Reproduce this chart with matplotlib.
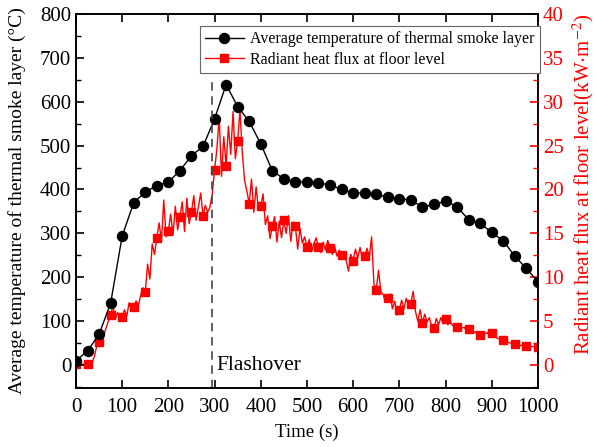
import numpy as np
import matplotlib.pyplot as plt

plt.rcParams['font.family'] = ['Liberation Serif', 'DejaVu Serif']
plt.rcParams['mathtext.fontset'] = 'stix'

# temperature of smoke layer, one reading every 25 s
t_temp = np.arange(0, 1001, 25)
temp = [10, 32, 70, 141, 294, 370, 394, 409, 417, 443, 477, 498, 561, 639, 589,
        555, 504, 443, 424, 417, 418, 414, 411, 400, 392, 392, 390, 382, 379, 376,
        360, 366, 373, 361, 331, 323, 302, 283, 248, 220, 190]

# radiant heat flux, read every 5 s
t_flux = np.arange(0, 1001, 5)
flux = [0.1, 0.1, 0.0, 0.1, 0.0, 0.1, 0.1, 0.3, 1.0, 2.2, 2.6, 2.9, 3.4, 4.2, 5.0,
        5.7, 6.8, 5.2, 6.0, 5.4, 5.5, 6.3, 5.6, 7.1, 6.2, 6.6, 7.3, 6.8, 7.9, 8.8,
        8.3, 11.5, 9.8, 13.8, 12.6, 14.5, 16.2, 14.1, 18.8, 14.6, 15.3, 17.2, 14.8, 18.1, 15.4,
        16.9, 18.6, 15.2, 19.0, 16.1, 17.4, 19.3, 16.5, 18.0, 19.6, 17.0, 18.2, 17.4, 18.0, 19.5,
        22.2, 24.6, 28.3, 21.5, 26.0, 22.7, 27.2, 24.0, 28.9, 23.5, 25.5, 29.1, 24.2, 21.0, 19.8,
        18.4, 21.2, 17.4, 20.3, 17.6, 18.1, 19.5, 16.0, 17.0, 14.4, 15.8, 16.9, 14.0, 16.4, 14.5,
        16.5, 15.0, 17.0, 14.1, 16.3, 15.8, 13.2, 15.6, 13.9, 14.6, 13.4, 14.3, 12.9, 13.8, 14.5,
        13.4, 12.8, 14.0, 13.1, 14.2, 13.3, 12.6, 13.5, 12.4, 13.1, 12.5, 12.9, 11.9, 10.7, 12.6,
        11.9, 13.2, 12.2, 13.4, 12.1, 12.4, 13.3, 12.3, 14.6, 9.2, 8.6, 10.8, 8.4, 8.0, 7.2,
        7.6, 8.1, 6.4, 7.3, 5.7, 6.25, 7.4, 6.4, 7.6, 6.8, 7.0, 8.4, 6.1, 5.0, 6.3,
        4.8, 5.8, 4.9, 5.4, 4.4, 4.2, 5.3, 4.6, 5.4, 4.7, 5.2, 4.6, 5.0, 4.5, 4.7,
        4.3, 4.6, 4.2, 4.3, 4.0, 4.05, 3.9, 3.6, 3.8, 3.4, 3.4, 3.6, 3.5, 3.7, 3.4,
        3.7, 3.3, 3.1, 3.0, 2.9, 2.85, 2.8, 2.6, 2.5, 2.5, 2.4, 2.3, 2.3, 2.2, 2.2,
        2.2, 2.2, 2.1, 2.1, 2.1, 2.1]

flashover = 295

fig = plt.figure(figsize=(5.97, 4.47), dpi=100)
ax = fig.add_axes([0.1273, 0.132, 0.7737, 0.8367])
ax2 = ax.twinx()

l1, = ax.plot(t_temp, temp, color='black', lw=1.0, marker='o', ms=7.2,
              label='Average temperature of thermal smoke layer')
l2, = ax2.plot(t_flux, flux, color='red', lw=1.0, marker='s', ms=6.2,
               markevery=5, label='Radiant heat flux at floor level')
ax.set_zorder(ax2.get_zorder() + 1)
ax.patch.set_visible(False)

ax.plot([flashover, flashover], [-52, 650], color='#444444', lw=1.2,
        ls=(0, (5, 3.5)))
ax.text(flashover + 10, 0, 'Flashover', fontsize=15.5, va='center', ha='left')

ax.set_xlim(0, 1000)
ax.set_ylim(-52.4, 800)
ax2.set_ylim(-2.62, 40)
ax.set_xticks(np.arange(0, 1001, 100))
ax.set_yticks(np.arange(0, 801, 100))
ax.set_yticks(np.arange(-50, 801, 50), minor=True)
ax2.set_yticks(np.arange(0, 41, 5))
ax2.set_yticks(np.arange(-2.5, 40.1, 2.5), minor=True)

ax.tick_params(axis='x', direction='in', top=True, length=6, width=1.2,
               labelsize=15, pad=7)
ax.tick_params(axis='y', which='major', direction='in', length=6, width=1.2,
               labelsize=15)
ax.tick_params(axis='y', which='minor', direction='in', length=3.5, width=1.0)
ax2.tick_params(axis='y', which='major', direction='in', length=6, width=1.2,
                labelsize=15, colors='red')
ax2.tick_params(axis='y', which='minor', direction='in', length=3.5, width=1.0,
                colors='red')
for s in ax.spines.values():
    s.set_linewidth(1.2)
for s in ax2.spines.values():
    s.set_linewidth(1.2)
ax2.spines['right'].set_color('red')

ax.set_xlabel('Time (s)', fontsize=13.5, labelpad=5)
ax.set_ylabel('Average temperature of thermal smoke layer (°C)', fontsize=14,
              labelpad=10)
ax2.set_ylabel(r'Radiant heat flux at floor level(kW$\cdot$m$^{-2}$)',
               fontsize=15, color='red')
ax2.yaxis.set_label_coords(1.071, 0.545)

leg = ax.legend(handles=[l1, l2], loc='upper right', fontsize=11.4,
                bbox_to_anchor=(1.004, 0.967), frameon=True, fancybox=False,
                edgecolor='#666666', framealpha=1, borderpad=0.3,
                labelspacing=0.3, handlelength=2.5, handletextpad=0.4,
                borderaxespad=0)
leg.get_frame().set_linewidth(0.8)

fig.savefig('out.png', dpi=100)
